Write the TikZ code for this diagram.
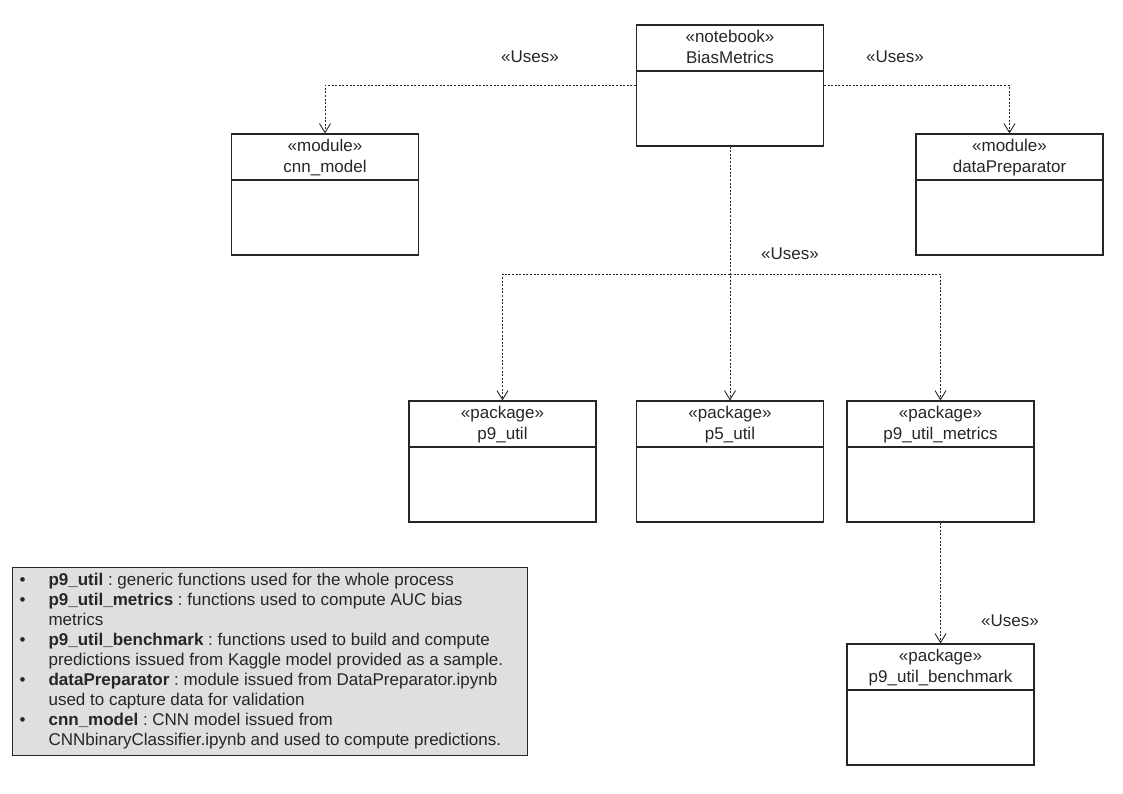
\documentclass[tikz,border=0pt]{standalone}
\usepackage{fontspec}
\setmainfont{Liberation Sans}
\usetikzlibrary{arrows.meta}
\frenchspacing

\begin{document}
\begin{tikzpicture}[
                    x=1pt, y=-1pt,
                    every node/.style={
                        font=\fontsize{17}{21}\selectfont,
                        text=black!85
                    },
                    umlbox/.style={
                        rectangle,
                        draw=black!85,
                        line width=1.1pt,
                        minimum width=187pt,
                        minimum height=121pt,
                        inner sep=0pt,
                        path picture={\draw[black!85, line width=1.1pt]
                            ([yshift=-46pt]path picture bounding box.north west) --
                            ([yshift=-46pt]path picture bounding box.north east);}
                    },
                    head/.style={anchor=north, align=center, inner sep=6pt},
                    uses/.style={
                        draw=black!85,
                        line width=0.9pt,
                        dash pattern=on 2pt off 1.6pt,
                        -{Straight Barb[length=9pt, width=11pt, line width=0.9pt]}
                    },
                    legend/.style={
                        rectangle,
                        anchor=north west,
                        draw=black!85,
                        fill=gray!25,
                        line width=1.1pt,
                        minimum width=515pt,
                        minimum height=188pt,
                        inner xsep=7pt,
                        inner ysep=4pt,
                        font=\fontsize{17}{20}\selectfont
                    }
                ]
                    \useasboundingbox (0,0) rectangle (1123,794);

                    \node[umlbox, label={[head]north:{«notebook»\\BiasMetrics}}] (bias) at (730,85.5) {};
                    \node[umlbox, label={[head]north:{«module»\\cnn\_model}}] (cnn) at (325,194.5) {};
                    \node[umlbox, label={[head]north:{«module»\\dataPreparator}}] (prep) at (1009.5,194.5) {};
                    \node[umlbox, label={[head]north:{«package»\\p9\_util}}] (pnine) at (502.5,461.5) {};
                    \node[umlbox, label={[head]north:{«package»\\p5\_util}}] (pfive) at (730,461.5) {};
                    \node[umlbox, label={[head]north:{«package»\\p9\_util\_metrics}}] (metrics) at (940.5,461.5) {};
                    \node[umlbox, label={[head]north:{«package»\\p9\_util\_benchmark}}] (bench) at (940.5,704.5) {};

                    \node (usescnn) at (530,57) {«Uses»};
                    \node (usesprep) at (895,57) {«Uses»};
                    \node (usespkg) at (790,254) {«Uses»};
                    \node (usesbench) at (1010,621) {«Uses»};

                    \node[legend] (notes) at (12,567) {%
                        \begin{tabular}{@{}p{29pt}@{}p{472pt}@{}}
                        \textbullet & \textbf{p9\_util} : generic functions used for the whole process\\
                        \textbullet & \textbf{p9\_util\_metrics} : functions used to compute AUC bias\\
                                    & metrics\\
                        \textbullet & \textbf{p9\_util\_benchmark} : functions used to build and compute\\
                                    & predictions issued from Kaggle model provided as a sample.\\
                        \textbullet & \textbf{dataPreparator} : module issued from DataPreparator.ipynb\\
                                    & used to capture data for validation\\
                        \textbullet & \textbf{cnn\_model} : CNN model issued from\\
                                    & CNNbinaryClassifier.ipynb and used to compute predictions.
                        \end{tabular}};

                    % Edges
                    \coordinate (split) at (730,274);
                    \draw[uses] (bias.west) -| (cnn.north);
                    \draw[uses] (bias.east) -| (prep.north);
                    \draw[uses] (bias.south) -- (pfive.north);
                    \draw[uses] (split) -| (pnine.north);
                    \draw[uses] (split) -| (metrics.north);
                    \draw[uses] (metrics.south) -- (bench.north);
                \end{tikzpicture}
\end{document}
